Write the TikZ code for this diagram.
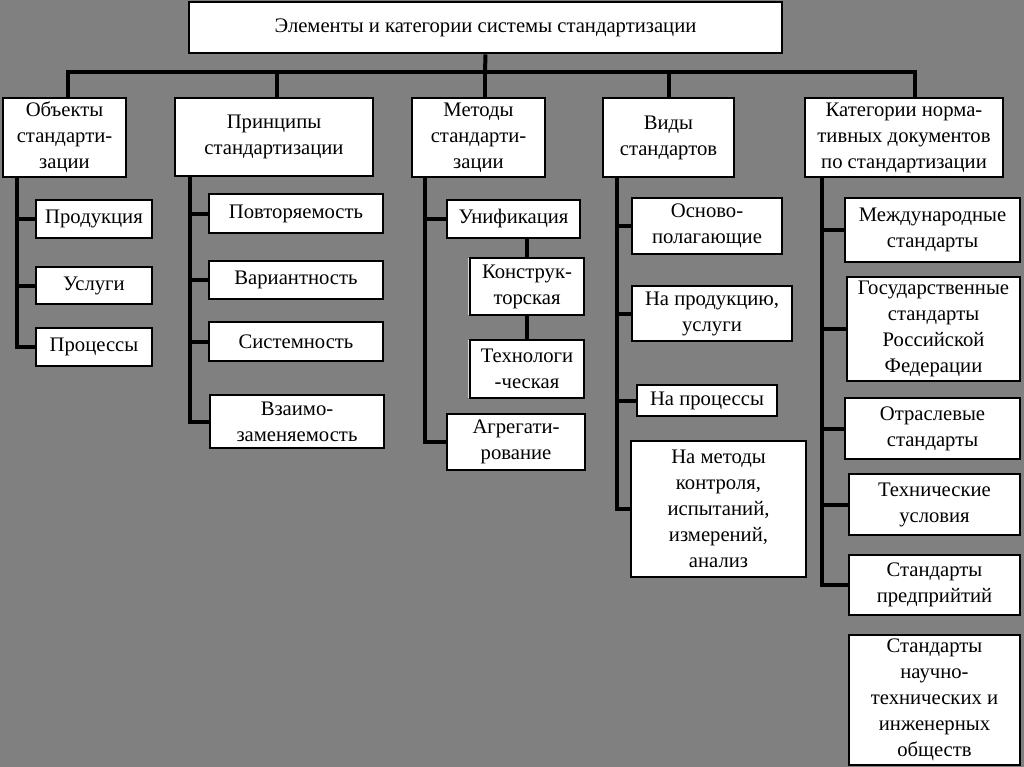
\documentclass[tikz,border=0pt]{standalone}
\usepackage{fontspec}
\setmainfont{Liberation Serif}
\definecolor{bg}{RGB}{128,128,128}
\begin{document}
\begin{tikzpicture}[x=0.75pt,y=-0.75pt,
  bx/.style={draw=black, fill=white, line width=2.2pt, inner sep=0pt, align=center,
    font=\fontsize{15.5}{19.5}\selectfont},
  pos/.style n args={4}{at={({(#1+#3)/2},{(#2+#4)/2})},
    minimum width={(#3-#1)*0.75pt}, minimum height={(#4-#2)*0.75pt}},
  ln/.style={draw=black, line width=3pt},
  pale/.style={draw=white!85!black, line width=1.2pt}]
\fill[bg] (0,0) rectangle (1024,767);
\useasboundingbox (0,0) rectangle (1024,767);
\coordinate (bus) at (485,72);
\coordinate (t1) at (17,0);
\coordinate (t2) at (190,0);
\coordinate (t3) at (425,0);
\coordinate (t4) at (617,0);
\coordinate (t5) at (822,0);
% nodes
\node[bx, pos={189}{2}{782}{53}] (title) {Элементы и категории системы стандартизации};
\node[bx, pos={3}{98}{126}{177}] (obj) {Объекты\\стандарти-\\зации};
\node[bx, pos={175}{98}{373}{176}] (prin) {Принципы\\стандартизации};
\node[bx, pos={412}{98}{545}{177}] (meth) {Методы\\стандарти-\\зации};
\node[bx, pos={603}{98}{734}{177}] (vidy) {Виды\\стандартов};
\node[bx, pos={805}{98}{1003}{177}] (kat) {Категории норма-\\тивных документов\\по стандартизации};
\node[bx, pos={36}{200}{152}{238}] (prod) {Продукция};
\node[bx, pos={36}{267}{152}{304}] (usl) {Услуги};
\node[bx, pos={36}{328}{152}{366}] (proc) {Процессы};
\node[bx, pos={209}{194}{383}{233}] (povt) {Повторяемость};
\node[bx, pos={209}{261}{383}{299}] (var) {Вариантность};
\node[bx, pos={209}{322}{383}{361}] (sist) {Системность};
\node[bx, pos={210}{395}{384}{448}] (vzaim) {Взаимо-\\заменяемость};
\node[bx, pos={447}{200}{580}{238}] (unif) {Унификация};
\node[bx, pos={470}{258}{584}{315}] (kon) {Конструк-\\торская};
\node[bx, pos={470}{340}{584}{398}] (tech) {Технологи\\-ческая};
\node[bx, pos={447}{414}{585}{470}] (agr) {Агрегати-\\рование};
\node[bx, pos={632}{198}{782}{254}] (osn) {Осново-\\полагающие};
\node[bx, pos={632}{286}{792}{341}] (nap) {На продукцию,\\услуги};
\node[bx, pos={637}{385}{777}{416}] (napr) {На процессы};
\node[bx, pos={631}{441}{806}{577}] (nam) {На методы\\контроля,\\испытаний,\\измерений,\\анализ};
\node[bx, pos={845}{198}{1020}{262}] (mezh) {Международные\\стандарты};
\node[bx, pos={847}{277}{1020}{381}] (gos) {Государственные\\стандарты\\Российской\\Федерации};
\node[bx, pos={845}{398}{1020}{459}] (otr) {Отраслевые\\стандарты};
\node[bx, pos={849}{474}{1020}{535}] (techu) {Технические\\условия};
\node[bx, pos={849}{555}{1020}{615}] (pred) {Стандарты\\предприйтий};
\node[bx, pos={849}{635}{1020}{765}] (nauch) {Стандарты\\научно-\\технических и\\инженерных\\обществ};
% pale left edges of the two sub-boxes
\draw[pale] ([yshift=-1.2pt]kon.north west) -- ([yshift=1.2pt]kon.south west);
\draw[pale] ([yshift=-1.2pt]tech.north west) -- ([yshift=1.2pt]tech.south west);
% bus
\draw[ln] ([xshift=2.6pt]obj.north) |- (bus) -| ([xshift=8.25pt]kat.north);
\draw[ln] (title.south) -- (bus);
\draw[ln] ([xshift=2.25pt]prin.north) -- ([xshift=2.25pt]prin.north |- bus);
\draw[ln] (meth.north -| bus) -- (bus);
\draw[ln] (vidy.north) -- (vidy.north |- bus);
% objects
\draw[ln] (obj.south -| t1) |- (prod.west);
\draw[ln] (obj.south -| t1) |- (usl.west);
\draw[ln] (obj.south -| t1) |- (proc.west);
% principles
\draw[ln] (prin.south -| t2) |- (povt.west);
\draw[ln] (prin.south -| t2) |- (var.west);
\draw[ln] (prin.south -| t2) |- (sist.west);
\draw[ln] (prin.south -| t2) |- (vzaim.west);
% methods
\draw[ln] (meth.south -| t3) |- (unif.west);
\draw[ln] (meth.south -| t3) |- (agr.west);
\draw[ln] (kon.north |- unif.south) -- (kon.north);
\draw[ln] (kon.south) -- (tech.north);
% kinds
\draw[ln] (vidy.south -| t4) |- (osn.west);
\draw[ln] (vidy.south -| t4) |- (nap.west);
\draw[ln] (vidy.south -| t4) |- (napr.west);
\draw[ln] (vidy.south -| t4) |- (nam.west);
% categories
\draw[ln] (kat.south -| t5) |- (mezh.west);
\draw[ln] (kat.south -| t5) |- (gos.west);
\draw[ln] (kat.south -| t5) |- (otr.west);
\draw[ln] (kat.south -| t5) |- (techu.west);
\draw[ln] (kat.south -| t5) |- (pred.west);
\end{tikzpicture}
\end{document}
